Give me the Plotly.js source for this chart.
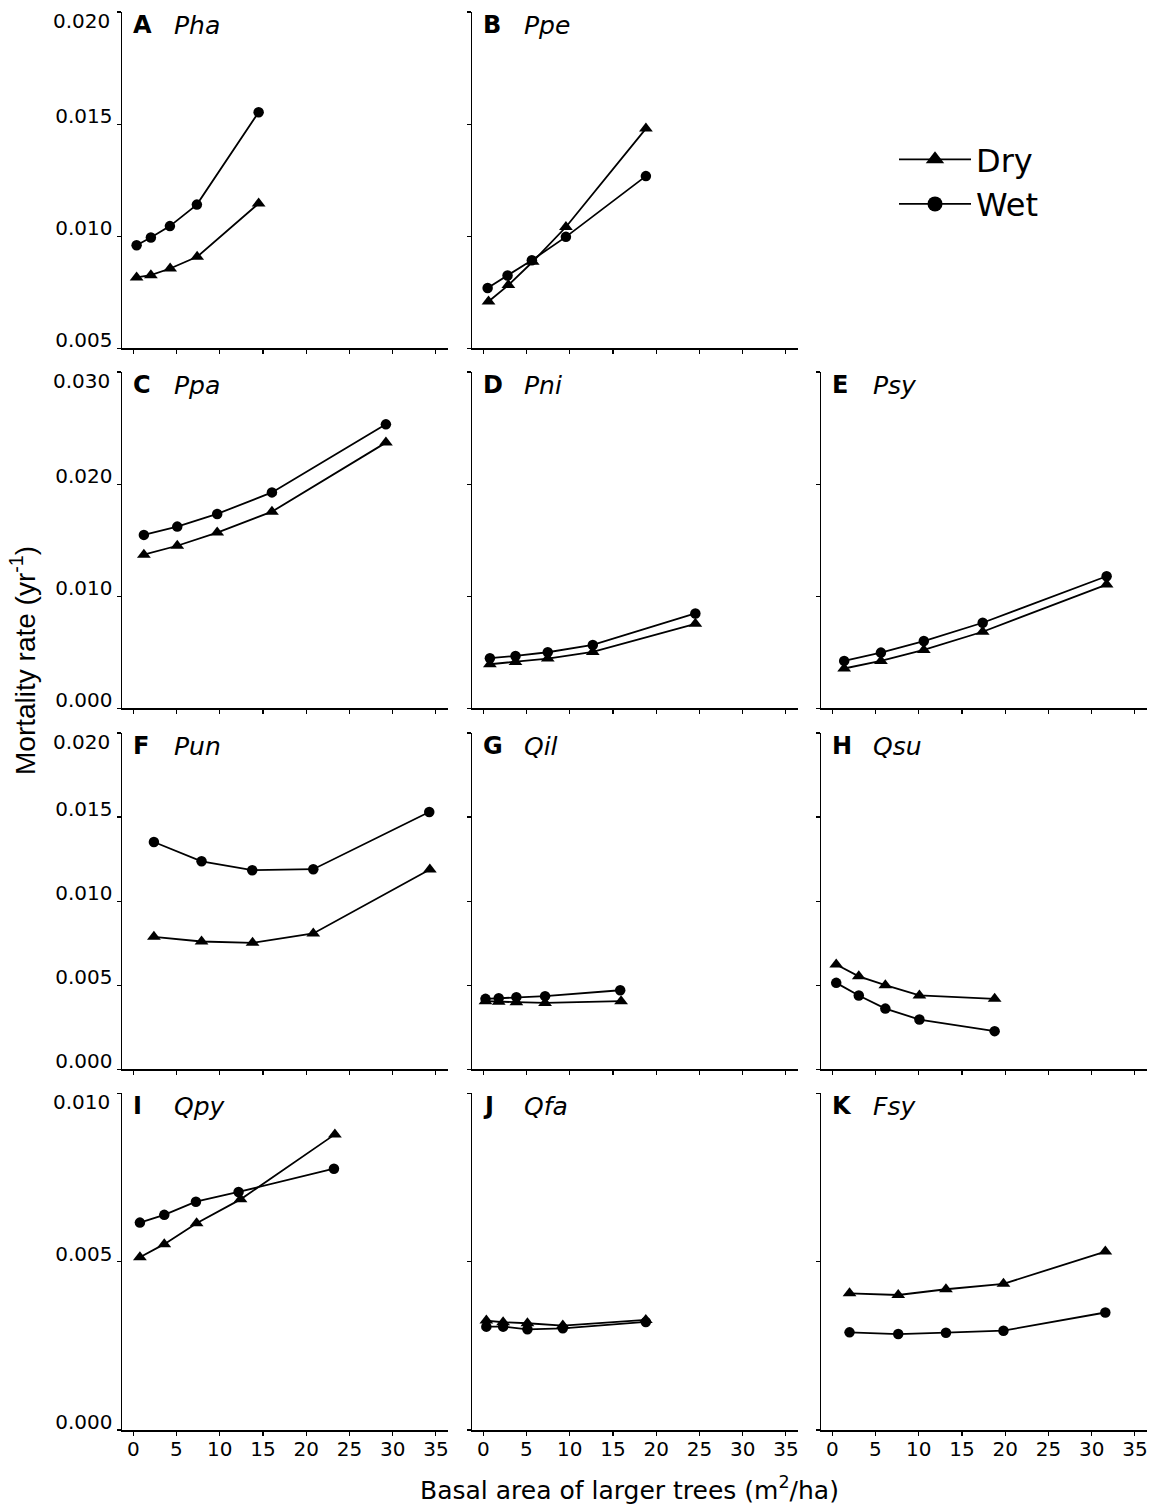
<!DOCTYPE html>
<html><head><meta charset="utf-8">
<script src="https://cdn.plot.ly/plotly-3.0.1.min.js"></script>
<style>html,body{margin:0;padding:0;background:#fff}#chart{width:1150px;height:1507px}</style>
</head><body><div id="chart"></div>
<script>
// ---- Data ----
const xTicks = [0, 5, 10, 15, 20, 25, 30, 35];
const seriesNames = ["Dry", "Wet"];

const phaDryX = [0.39, 2.04, 4.27, 7.39, 14.5];
const phaDryY = [0.00816, 0.00826, 0.00856, 0.00908, 0.01146];
const phaWetX = [0.39, 2.04, 4.24, 7.36, 14.5];
const phaWetY = [0.0096, 0.00994, 0.01045, 0.01141, 0.01553];

const ppeDryX = [0.61, 2.91, 5.72, 9.56, 18.81];
const ppeDryY = [0.00709, 0.00782, 0.00886, 0.01041, 0.0148];
const ppeWetX = [0.51, 2.81, 5.62, 9.56, 18.81];
const ppeWetY = [0.00769, 0.00825, 0.00893, 0.00997, 0.01268];

const ppaDryX = [1.23, 5.09, 9.71, 16.04, 29.22];
const ppaDryY = [0.0137, 0.0145, 0.01568, 0.01754, 0.0237];
const ppaWetX = [1.23, 5.09, 9.71, 16.04, 29.22];
const ppaWetY = [0.01547, 0.01621, 0.01734, 0.01926, 0.02533];

const pniDryX = [0.77, 3.73, 7.46, 12.67, 24.53];
const pniDryY = [0.00393, 0.00414, 0.00444, 0.00503, 0.00754];
const pniWetX = [0.77, 3.73, 7.46, 12.67, 24.53];
const pniWetY = [0.00447, 0.00467, 0.005, 0.00565, 0.00846];

const psyDryX = [1.38, 5.63, 10.59, 17.4, 31.73];
const psyDryY = [0.00355, 0.00423, 0.00521, 0.00683, 0.01104];
const psyWetX = [1.38, 5.63, 10.59, 17.4, 31.73];
const psyWetY = [0.00423, 0.00497, 0.006, 0.00763, 0.01178];

const punDryX = [2.39, 7.9, 13.8, 20.82, 34.3];
const punDryY = [0.00788, 0.0076, 0.00752, 0.00808, 0.01188];
const punWetX = [2.39, 7.9, 13.76, 20.82, 34.23];
const punWetY = [0.01352, 0.01237, 0.01184, 0.0119, 0.0153];

const qilDryX = [0.26, 1.79, 3.83, 7.15, 15.94];
const qilDryY = [0.00405, 0.00401, 0.00399, 0.00395, 0.00405];
const qilWetX = [0.26, 1.79, 3.83, 7.15, 15.84];
const qilWetY = [0.00419, 0.00423, 0.00429, 0.00435, 0.0047];

const qsuDryX = [0.46, 3.07, 6.14, 10.08, 18.78];
const qsuDryY = [0.00623, 0.00553, 0.005, 0.00439, 0.00419];
const qsuWetX = [0.46, 3.07, 6.14, 10.08, 18.78];
const qsuWetY = [0.00514, 0.00439, 0.00361, 0.00296, 0.00227];

const qpyDryX = [0.77, 3.59, 7.33, 12.41, 23.32];
const qpyDryY = [0.00513, 0.00552, 0.00614, 0.00685, 0.00878];
const qpyWetX = [0.77, 3.59, 7.25, 12.18, 23.21];
const qpyWetY = [0.00616, 0.00639, 0.00678, 0.00707, 0.00776];

const qfaDryX = [0.36, 2.3, 5.11, 9.2, 18.8];
const qfaDryY = [0.00325, 0.0032, 0.00317, 0.0031, 0.00327];
const qfaWetX = [0.36, 2.3, 5.11, 9.2, 18.8];
const qfaWetY = [0.00307, 0.00307, 0.00299, 0.00302, 0.00321];

const fsyDryX = [2.0, 7.63, 13.15, 19.8, 31.58];
const fsyDryY = [0.00406, 0.00401, 0.00418, 0.00434, 0.0053];
const fsyWetX = [2.0, 7.63, 13.15, 19.8, 31.58];
const fsyWetY = [0.0029, 0.00285, 0.00289, 0.00295, 0.00349];

const panelLetters = ["A", "B", "C", "D", "E", "F", "G", "H", "I", "J", "K"];
const speciesCodes = ["Pha", "Ppe", "Ppa", "Pni", "Psy", "Pun", "Qil", "Qsu", "Qpy", "Qfa", "Fsy"];

// rows: y tick values (first = bottom, last = top of axis)
const rowYTicks = [
  [0.005, 0.010, 0.015, 0.020],
  [0.000, 0.010, 0.020, 0.030],
  [0.000, 0.005, 0.010, 0.015, 0.020],
  [0.000, 0.005, 0.010]
];

// ---- Layout geometry (pixels) ----
const W = 1150, H = 1507;
const colPx = [[122, 448], [472, 798], [821, 1147]];
const rowPx = [[12, 348.3], [372, 708.3], [733, 1069.3], [1093.3, 1430]];
const panelPos = [[0,0],[0,1],[1,0],[1,1],[1,2],[2,0],[2,1],[2,2],[3,0],[3,1],[3,2]];
const panelData = [
  [phaDryX, phaDryY, phaWetX, phaWetY],
  [ppeDryX, ppeDryY, ppeWetX, ppeWetY],
  [ppaDryX, ppaDryY, ppaWetX, ppaWetY],
  [pniDryX, pniDryY, pniWetX, pniWetY],
  [psyDryX, psyDryY, psyWetX, psyWetY],
  [punDryX, punDryY, punWetX, punWetY],
  [qilDryX, qilDryY, qilWetX, qilWetY],
  [qsuDryX, qsuDryY, qsuWetX, qsuWetY],
  [qpyDryX, qpyDryY, qpyWetX, qpyWetY],
  [qfaDryX, qfaDryY, qfaWetX, qfaWetY],
  [fsyDryX, fsyDryY, fsyWetX, fsyWetY]
];

const FONT = "DejaVu Sans";
const TICKFONT = {family: FONT, size: 20, color: "#000"};
const LW = 1.8;
const traces = [];
const layout = {
  width: W, height: H,
  margin: {l: 0, r: 0, t: 0, b: 0},
  paper_bgcolor: "#fff", plot_bgcolor: "rgba(0,0,0,0)",
  showlegend: true,
  font: {family: FONT, color: "#000"},
  legend: {
    x: 894 / W, xanchor: "left", y: 1 - 132 / H, yanchor: "top",
    font: {family: FONT, size: 32, color: "#000"},
    bgcolor: "rgba(0,0,0,0)", itemwidth: 72, tracegroupgap: 0
  },
  annotations: [],
  hovermode: false
};

panelPos.forEach(([r, c], i) => {
  const n = i + 1;
  const xa = n === 1 ? "xaxis" : "xaxis" + n;
  const ya = n === 1 ? "yaxis" : "yaxis" + n;
  const xr = n === 1 ? "x" : "x" + n;
  const yr = n === 1 ? "y" : "y" + n;
  const [cx0, cx1] = colPx[c];
  const [ry0, ry1] = rowPx[r];
  layout[xa] = {
    domain: [cx0 / W, cx1 / W], anchor: yr,
    range: [-1.3, 36.4], tickmode: "array", tickvals: xTicks,
    showticklabels: r === 3, ticklabelstandoff: -4,
    ticks: "outside", ticklen: 4, tickwidth: 1.2, tickcolor: "#000",
    showline: true, linecolor: "#000", linewidth: 1.5,
    showgrid: false, zeroline: false,
    tickfont: TICKFONT
  };
  const yt = rowYTicks[r];
  const lo = yt[0], hi = yt[yt.length - 1];
  layout[ya] = {
    domain: [1 - ry1 / H, 1 - ry0 / H], anchor: xr,
    range: [lo - 1e-7, hi + 1e-7], tickmode: "array", tickvals: yt,
    ticktext: yt.map((v, k) => k === yt.length - 1 ? "" : v.toFixed(3)),
    ticklabelshift: -8, showticklabels: c === 0,
    ticks: "outside", ticklen: 4, tickwidth: 1.2, tickcolor: "#000",
    showline: true, linecolor: "#000", linewidth: 1.5,
    showgrid: false, zeroline: false,
    tickfont: TICKFONT
  };
  if (c === 0) {
    // top tick label sits just below its tick in the reference
    layout.annotations.push({
      xref: "paper", yref: yr, x: (cx0 - 10) / W, y: hi,
      xanchor: "right", yanchor: "middle", yshift: -9, showarrow: false,
      text: hi.toFixed(3), font: TICKFONT
    });
  }
  const [dx, dy, wx, wy] = panelData[i];
  traces.push({
    x: dx, y: dy, xaxis: xr, yaxis: yr, mode: "lines+markers", name: seriesNames[0],
    showlegend: false, line: {color: "#000", width: LW},
    marker: {symbol: "triangle-up", size: 12, color: "#000"}
  });
  traces.push({
    x: wx, y: wy, xaxis: xr, yaxis: yr, mode: "lines+markers", name: seriesNames[1],
    showlegend: false, line: {color: "#000", width: LW},
    marker: {symbol: "circle", size: 10.5, color: "#000"}
  });
  layout.annotations.push({
    xref: xr + " domain", yref: yr + " domain", x: 9 / 326, y: 1 - 13 / 336,
    xanchor: "left", yanchor: "middle", showarrow: false,
    text: "<b>" + panelLetters[i] + "</b>",
    font: {family: FONT, size: 24, color: "#000"}
  });
  layout.annotations.push({
    xref: xr + " domain", yref: yr + " domain", x: 50 / 326, y: 1 - 13 / 336,
    xanchor: "left", yanchor: "middle", showarrow: false,
    text: "<i>" + speciesCodes[i] + "</i>",
    font: {family: FONT, size: 25, color: "#000"}
  });
});

// legend keys (no data points)
traces.push({
  x: [null], y: [null], xaxis: "x", yaxis: "y", mode: "lines+markers", name: seriesNames[0],
  line: {color: "#000", width: LW}, marker: {symbol: "triangle-up", size: 16, color: "#000"}
});
traces.push({
  x: [null], y: [null], xaxis: "x", yaxis: "y", mode: "lines+markers", name: seriesNames[1],
  line: {color: "#000", width: LW}, marker: {symbol: "circle", size: 15, color: "#000"}
});

// axis titles
layout.annotations.push({
  xref: "paper", yref: "paper", x: 23 / W, y: 1 - 661 / H,
  xanchor: "center", yanchor: "middle", textangle: -90, showarrow: false,
  text: "Mortality rate (yr<sup>-1</sup>)",
  font: {family: "Liberation Sans", size: 28, color: "#000"}
});
layout.annotations.push({
  xref: "paper", yref: "paper", x: 629.5 / W, y: 1 - 1488 / H,
  xanchor: "center", yanchor: "middle", showarrow: false,
  text: "Basal area of larger trees (m<sup>2</sup>/ha)",
  font: {family: FONT, size: 25, color: "#000"}
});

Plotly.newPlot("chart", traces, layout, {staticPlot: true, displayModeBar: false});
</script>
</body></html>
